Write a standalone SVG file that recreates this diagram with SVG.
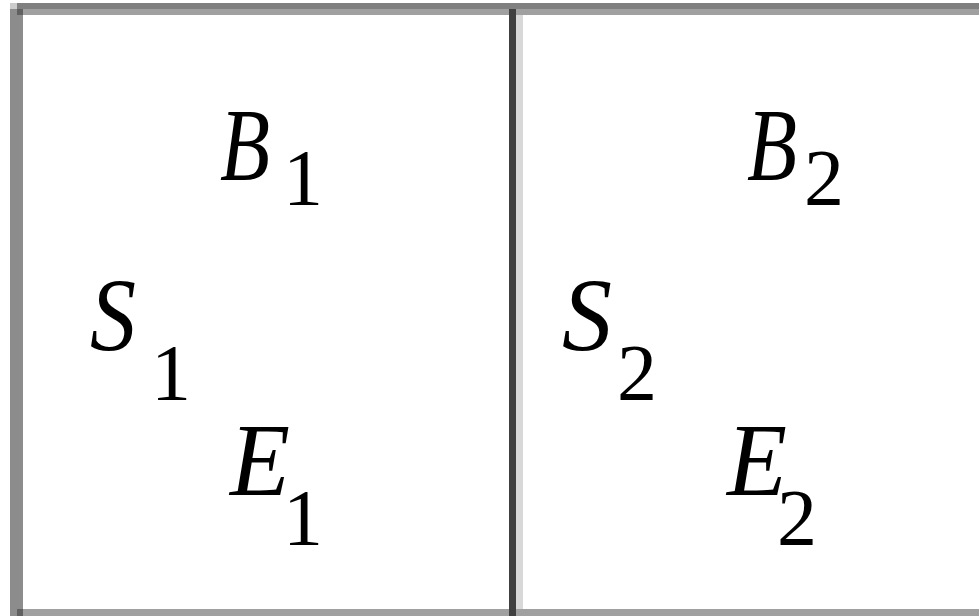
<svg xmlns="http://www.w3.org/2000/svg" width="979" height="616" viewBox="0 0 979 616">
<style>
.v{font-family:"Liberation Serif","Times New Roman",serif;font-style:italic;font-size:104px;fill:#000}
.s{font-family:"Liberation Serif","Times New Roman",serif;font-size:80px;fill:#000}
</style>
<rect width="979" height="616" fill="#fff"/>
<g id="frame">
<rect x="10" y="3" width="7" height="6" fill="#ccc"/>
<rect x="17" y="3" width="962" height="6" fill="#808080"/>
<rect x="17" y="9" width="962" height="6" fill="#a0a0a0"/>
<rect x="10" y="9" width="13" height="607" fill="#8c8c8c"/>
<rect x="17" y="9" width="6" height="6" fill="#606060"/>
<rect x="17" y="609" width="962" height="7" fill="#a0a0a0"/>
<rect x="17" y="609" width="6" height="7" fill="#606060"/>
</g>
<g id="connectors">
<rect x="509" y="9" width="7" height="607" fill="#404040"/>
<rect x="516" y="15" width="7" height="594" fill="#d8d8d8"/>
</g>
<g id="B1"><text class="v" x="220" y="180" textLength="50" lengthAdjust="spacingAndGlyphs">B</text><text class="s" x="283" y="205">1</text></g>
<g id="S1"><text class="v" x="90" y="350" textLength="46" lengthAdjust="spacingAndGlyphs">S</text><text class="s" x="151" y="400">1</text></g>
<g id="E1"><text class="v" x="230" y="495" textLength="60" lengthAdjust="spacingAndGlyphs">E</text><text class="s" x="283" y="545">1</text></g>
<g id="B2"><text class="v" x="747" y="180" textLength="50" lengthAdjust="spacingAndGlyphs">B</text><text class="s" x="804" y="205">2</text></g>
<g id="S2"><text class="v" x="562" y="350" textLength="50" lengthAdjust="spacingAndGlyphs">S</text><text class="s" x="617" y="400">2</text></g>
<g id="E2"><text class="v" x="727" y="495" textLength="60" lengthAdjust="spacingAndGlyphs">E</text><text class="s" x="777" y="545">2</text></g>
</svg>
